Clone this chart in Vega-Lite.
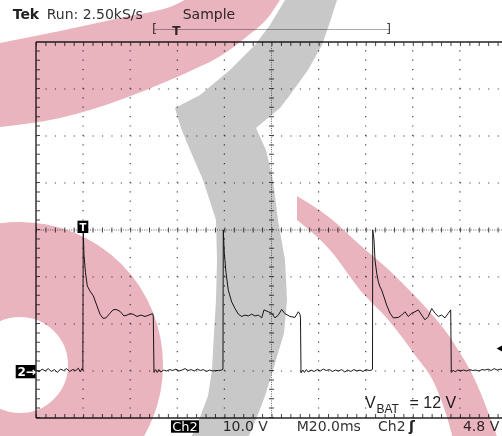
{
  "$schema": "https://vega.github.io/schema/vega-lite/v6.json",
  "width": 466,
  "height": 376,
  "autosize": "none",
  "padding": {"left": 36, "top": 42, "right": 0, "bottom": 18},
  "background": "#ffffff",
  "config": {"view": {"stroke": null}, "axis": {"disable": true}},
  "data": {"values": [{}]},
  "datasets": {
    "trace": [
      {"t":0,"v":0.2},{"t":1.3,"v":-0.2},{"t":2.6,"v":0.4},{"t":3.9,"v":0.0},{"t":5.2,"v":0.5},{"t":6.5,"v":-0.1},{"t":7.8,"v":0.3},{"t":9.1,"v":-0.3},{"t":10.4,"v":0.4},{"t":11.7,"v":0.1},{"t":13.0,"v":0.5},{"t":14.3,"v":-0.1},{"t":15.6,"v":0.3},{"t":16.9,"v":0.1},{"t":18.0,"v":0.6},{"t":18.8,"v":-0.2},{"t":19.5,"v":0.5},{"t":19.9,"v":0.2},
      {"t":20.05,"v":30.0},{"t":20.38,"v":24.7},{"t":21.02,"v":20.9},{"t":21.79,"v":18.1},{"t":22.93,"v":17.0},{"t":24.33,"v":16.0},{"t":25.78,"v":14.0},{"t":27.18,"v":12.1},{"t":28.45,"v":11.2},{"t":29.73,"v":11.3},{"t":31.43,"v":12.3},{"t":32.7,"v":13.0},{"t":33.97,"v":13.1},{"t":35.67,"v":12.7},{"t":37.37,"v":11.7},{"t":38.65,"v":11.9},{"t":39.92,"v":12.2},{"t":41.19,"v":12.1},{"t":42.89,"v":11.6},{"t":44.59,"v":11.9},{"t":46.29,"v":11.6},{"t":47.99,"v":11.9},{"t":49.48,"v":12.2},{"t":49.81,"v":11.7},{"t":50.1,"v":-0.3},
      {"t":50.8,"v":0.3},{"t":51.5,"v":-0.3},{"t":52.2,"v":0.3},{"t":53.0,"v":-0.2},{"t":54.2,"v":0.2},{"t":55.5,"v":0.0},{"t":56.8,"v":0.3},{"t":58.1,"v":0.1},{"t":59.4,"v":0.4},{"t":60.7,"v":0.0},{"t":62.0,"v":0.2},{"t":63.3,"v":0.5},{"t":64.6,"v":0.1},{"t":65.9,"v":0.3},{"t":67.2,"v":0.0},{"t":68.5,"v":0.4},{"t":69.8,"v":0.1},{"t":71.1,"v":0.3},{"t":72.4,"v":-0.1},{"t":73.7,"v":0.2},{"t":75.0,"v":0.0},{"t":76.3,"v":0.1},{"t":77.6,"v":0.1},{"t":78.9,"v":0.2},{"t":79.4,"v":0.4},
      {"t":79.54,"v":30.0},{"t":79.97,"v":25.1},{"t":80.69,"v":20.9},{"t":81.67,"v":17.2},{"t":83.11,"v":14.7},{"t":84.51,"v":13.3},{"t":85.91,"v":12.1},{"t":87.36,"v":11.6},{"t":88.76,"v":11.9},{"t":90.16,"v":11.7},{"t":91.6,"v":12.1},{"t":93.01,"v":11.7},{"t":94.41,"v":11.9},{"t":95.85,"v":11.3},{"t":96.83,"v":13.0},{"t":98.65,"v":12.6},{"t":100.1,"v":12.3},{"t":101.5,"v":11.3},{"t":102.9,"v":11.9},{"t":104.34,"v":13.1},{"t":105.74,"v":12.2},{"t":107.87,"v":11.6},{"t":109.99,"v":11.4},{"t":111.39,"v":12.6},{"t":112.11,"v":12.1},{"t":112.32,"v":11.3},{"t":112.54,"v":-0.4},
      {"t":113.3,"v":0.2},{"t":114.0,"v":-0.3},{"t":114.8,"v":0.3},{"t":115.6,"v":-0.2},{"t":116.8,"v":0.2},{"t":118.1,"v":-0.1},{"t":119.4,"v":0.3},{"t":120.7,"v":0.0},{"t":122.0,"v":0.4},{"t":123.3,"v":0.1},{"t":124.6,"v":0.3},{"t":125.9,"v":-0.1},{"t":127.2,"v":0.2},{"t":128.5,"v":0.0},{"t":129.8,"v":0.3},{"t":131.1,"v":-0.2},{"t":132.4,"v":0.2},{"t":133.7,"v":-0.1},{"t":135.0,"v":0.3},{"t":136.3,"v":0.0},{"t":137.6,"v":0.2},{"t":138.9,"v":-0.1},{"t":140.2,"v":0.3},{"t":141.5,"v":0.1},{"t":142.6,"v":0.2},{"t":142.9,"v":0.4},
      {"t":143.0,"v":30.0},{"t":143.54,"v":27.9},{"t":143.97,"v":23.6},{"t":144.69,"v":20.8},{"t":145.37,"v":19.0},{"t":146.09,"v":17.9},{"t":146.81,"v":17.2},{"t":147.49,"v":16.2},{"t":148.93,"v":14.0},{"t":150.34,"v":12.3},{"t":151.74,"v":11.3},{"t":153.86,"v":11.4},{"t":155.31,"v":11.9},{"t":156.71,"v":12.6},{"t":158.11,"v":11.6},{"t":159.55,"v":12.3},{"t":160.95,"v":12.6},{"t":162.36,"v":13.0},{"t":163.8,"v":11.9},{"t":165.2,"v":10.9},{"t":166.6,"v":11.6},{"t":168.05,"v":13.3},{"t":169.45,"v":12.3},{"t":170.85,"v":11.6},{"t":172.29,"v":11.9},{"t":173.69,"v":11.3},{"t":175.1,"v":12.3},{"t":176.12,"v":13.0},{"t":176.37,"v":-0.3},
      {"t":177.2,"v":0.2},{"t":178.0,"v":-0.2},{"t":179.0,"v":0.2},{"t":180.3,"v":0.0},{"t":181.6,"v":0.2},{"t":182.9,"v":0.0},{"t":184.2,"v":0.3},{"t":185.5,"v":0.1},{"t":186.8,"v":0.2},{"t":188.1,"v":0.0},{"t":189.4,"v":0.3},{"t":190.7,"v":0.2},{"t":192.0,"v":0.4},{"t":193.3,"v":0.1},{"t":194.6,"v":0.5},{"t":195.9,"v":0.2},{"t":197.2,"v":0.4},{"t":197.9,"v":0.3}
    ],
    "vgrid": [{"g":20},{"g":40},{"g":60},{"g":80},{"g":120},{"g":140},{"g":160},{"g":180}],
    "hgrid": [{"g":0},{"g":10},{"g":20},{"g":40},{"g":50},{"g":60}],
    "pinkTop": [
      {"t":-15.29,"top":69.79,"bot":51.92},
      {"t":10.19,"top":72.34,"bot":53.83},
      {"t":35.67,"top":75.11,"bot":57.66},
      {"t":56.91,"top":77.45,"bot":61.89},
      {"t":69.65,"top":80.0,"bot":64.79},
      {"t":73.89,"top":80.0,"bot":65.75},
      {"t":88.76,"top":80.0,"bot":70.85},
      {"t":99.38,"top":80.0,"bot":75.75},
      {"t":104.9,"top":80.0,"bot":80.0}
    ],
    "pinkBand": [
      {"t":110.84,"top":37.23,"bot":32.13},
      {"t":124.86,"top":32.55,"bot":25.74},
      {"t":137.6,"top":26.81,"bot":17.23},
      {"t":150.34,"top":21.28,"bot":10.43},
      {"t":160.95,"top":15.96,"bot":3.4},
      {"t":169.45,"top":11.28,"bot":-2.98},
      {"t":174.54,"top":8.09,"bot":-9.79},
      {"t":177.94,"top":5.53,"bot":-15.74},
      {"t":186.43,"top":-1.91,"bot":-23.19},
      {"t":192.8,"top":-9.79,"bot":-27.45},
      {"t":197.05,"top":-15.74,"bot":-29.57}
    ],
    "grey": [
      {"v":80.0,"tl":106.59,"tr":128.71},
      {"v":78.94,"tl":105.75,"tr":127.83},
      {"v":73.62,"tl":99.38,"tr":124.43},
      {"v":69.36,"tl":92.99,"tr":121.46},
      {"v":64.04,"tl":82.38,"tr":115.51},
      {"v":58.72,"tl":69.65,"tr":107.87},
      {"v":55.96,"tl":59.03,"tr":103.62},
      {"v":51.7,"tl":61.58,"tr":93.43},
      {"v":47.02,"tl":65.4,"tr":97.68},
      {"v":40.64,"tl":70.92,"tr":100.65},
      {"v":32.13,"tl":76.44,"tr":102.77},
      {"v":23.62,"tl":76.87,"tr":105.75},
      {"v":15.11,"tl":76.44,"tr":106.59},
      {"v":8.09,"tl":75.59,"tr":105.32},
      {"v":0.21,"tl":74.74,"tr":100.65},
      {"v":-5.32,"tl":73.04,"tr":97.25},
      {"v":-9.79,"tl":69.65,"tr":93.85},
      {"v":-14.68,"tl":65.4,"tr":89.6}
    ]
  },
  "layer": [
    {
      "data": {"name": "vgrid"},
      "mark": {"type": "rule", "stroke": "#444", "strokeWidth": 1.2, "strokeDash": [1.2, 8.2]},
      "encoding": {
        "x": {"field": "g", "type": "quantitative", "scale": {"domain": [0, 197.9], "nice": false, "zero": false}},
        "y": {"datum": -10, "type": "quantitative", "scale": {"domain": [-10, 70], "nice": false, "zero": false}},
        "y2": {"datum": 70}
      }
    },
    {
      "data": {"name": "hgrid"},
      "mark": {"type": "rule", "stroke": "#444", "strokeWidth": 1.2, "strokeDash": [1.2, 8.22]},
      "encoding": {
        "y": {"field": "g", "type": "quantitative"},
        "x": {"datum": 0, "type": "quantitative"},
        "x2": {"datum": 197.9}
      }
    },
    {"mark": {"type": "rule", "stroke": "#666", "strokeWidth": 1, "strokeDash": [1, 1.35]},
     "encoding": {"x": {"datum": 100, "type": "quantitative"}, "y": {"datum": -10, "type": "quantitative"}, "y2": {"datum": 70}}},
    {"mark": {"type": "rule", "stroke": "#444", "strokeWidth": 5, "strokeDash": [1, 8.4]},
     "encoding": {"x": {"datum": 100, "type": "quantitative"}, "y": {"datum": -10, "type": "quantitative"}, "y2": {"datum": 70}}},
    {"mark": {"type": "rule", "stroke": "#666", "strokeWidth": 1, "strokeDash": [1, 1.35]},
     "encoding": {"y": {"datum": 30, "type": "quantitative"}, "x": {"datum": 0, "type": "quantitative"}, "x2": {"datum": 197.9}}},
    {"mark": {"type": "rule", "stroke": "#444", "strokeWidth": 5, "strokeDash": [1, 8.42]},
     "encoding": {"y": {"datum": 30, "type": "quantitative"}, "x": {"datum": 0, "type": "quantitative"}, "x2": {"datum": 197.9}}},
    {"mark": {"type": "rule", "stroke": "#444", "strokeWidth": 4, "strokeDash": [1, 8.4], "xOffset": 2},
     "encoding": {"x": {"datum": 0, "type": "quantitative"}, "y": {"datum": -10, "type": "quantitative"}, "y2": {"datum": 70}}},
    {"mark": {"type": "rule", "stroke": "#444", "strokeWidth": 4, "strokeDash": [1, 8.42], "yOffset": 2},
     "encoding": {"y": {"datum": 70, "type": "quantitative"}, "x": {"datum": 0, "type": "quantitative"}, "x2": {"datum": 197.9}}},
    {"mark": {"type": "rule", "stroke": "#444", "strokeWidth": 4, "strokeDash": [1, 8.42], "yOffset": -2},
     "encoding": {"y": {"datum": -10, "type": "quantitative"}, "x": {"datum": 0, "type": "quantitative"}, "x2": {"datum": 197.9}}},
    {"mark": {"type": "rule", "stroke": "#333", "strokeWidth": 1.5},
     "encoding": {"x": {"datum": 0, "type": "quantitative"}, "y": {"datum": -10, "type": "quantitative"}, "y2": {"datum": 70}}},
    {"mark": {"type": "rule", "stroke": "#222", "strokeWidth": 1.5},
     "encoding": {"y": {"datum": 70, "type": "quantitative"}, "x": {"datum": 0, "type": "quantitative"}, "x2": {"datum": 197.9}}},
    {"mark": {"type": "rule", "stroke": "#222", "strokeWidth": 1.5},
     "encoding": {"y": {"datum": -10, "type": "quantitative"}, "x": {"datum": 0, "type": "quantitative"}, "x2": {"datum": 197.9}}},
    {
      "data": {"name": "trace"},
      "mark": {"type": "line", "color": "#1a1a1a", "strokeWidth": 1},
      "encoding": {
        "x": {"field": "t", "type": "quantitative"},
        "y": {"field": "v", "type": "quantitative"}
      }
    },
    {"mark": {"type": "rule", "stroke": "#555", "strokeWidth": 1.2, "strokeDash": [1, 1]},
     "encoding": {"y": {"datum": 72.66, "type": "quantitative"}, "x": {"datum": 50.3, "type": "quantitative"}, "x2": {"datum": 150.2}}},
    {"mark": {"type": "text", "text": "[", "align": "left", "baseline": "middle", "font": "DejaVu Sans", "fontSize": 13, "color": "#444"},
     "encoding": {"x": {"datum": 49.26, "type": "quantitative"}, "y": {"datum": 72.66, "type": "quantitative"}}},
    {"mark": {"type": "text", "text": "]", "align": "right", "baseline": "middle", "font": "DejaVu Sans", "fontSize": 13, "color": "#444"},
     "encoding": {"x": {"datum": 150.76, "type": "quantitative"}, "y": {"datum": 72.66, "type": "quantitative"}}},
    {"mark": {"type": "text", "text": "T", "align": "center", "baseline": "middle", "font": "DejaVu Sans", "fontSize": 12, "fontWeight": "bold", "color": "#333"},
     "encoding": {"x": {"datum": 59.58, "type": "quantitative"}, "y": {"datum": 72.4, "type": "quantitative"}}},
    {"mark": {"type": "text", "text": "Tek", "align": "left", "baseline": "alphabetic", "font": "DejaVu Sans", "fontSize": 14, "fontWeight": "bold", "color": "#222"},
     "encoding": {"x": {"datum": -9.9, "type": "quantitative"}, "y": {"datum": 74.9, "type": "quantitative"}}},
    {"mark": {"type": "text", "text": "Run: 2.50kS/s", "align": "left", "baseline": "alphabetic", "font": "DejaVu Sans", "fontSize": 14, "color": "#333"},
     "encoding": {"x": {"datum": 4.54, "type": "quantitative"}, "y": {"datum": 74.9, "type": "quantitative"}}},
    {"mark": {"type": "text", "text": "Sample", "align": "left", "baseline": "alphabetic", "font": "DejaVu Sans", "fontSize": 14, "color": "#333"},
     "encoding": {"x": {"datum": 62.3, "type": "quantitative"}, "y": {"datum": 74.9, "type": "quantitative"}}},
    {"mark": {"type": "rect", "color": "#000"},
     "encoding": {"x": {"datum": 57.33, "type": "quantitative"}, "x2": {"datum": 69.22}, "y": {"datum": -10.49, "type": "quantitative"}, "y2": {"datum": -13.13}}},
    {"mark": {"type": "text", "text": "Ch2", "align": "center", "baseline": "alphabetic", "font": "DejaVu Sans", "fontSize": 13, "color": "#ffffff"},
     "encoding": {"x": {"datum": 63.28, "type": "quantitative"}, "y": {"datum": -12.77, "type": "quantitative"}}},
    {"mark": {"type": "text", "text": "10.0 V", "align": "left", "baseline": "alphabetic", "font": "DejaVu Sans", "fontSize": 14, "color": "#333"},
     "encoding": {"x": {"datum": 79.29, "type": "quantitative"}, "y": {"datum": -12.77, "type": "quantitative"}}},
    {"mark": {"type": "text", "text": "M20.0ms", "align": "left", "baseline": "alphabetic", "font": "DejaVu Sans", "fontSize": 14, "color": "#333"},
     "encoding": {"x": {"datum": 110.71, "type": "quantitative"}, "y": {"datum": -12.77, "type": "quantitative"}}},
    {"mark": {"type": "text", "text": "Ch2", "align": "left", "baseline": "alphabetic", "font": "DejaVu Sans", "fontSize": 14, "color": "#333"},
     "encoding": {"x": {"datum": 145.24, "type": "quantitative"}, "y": {"datum": -12.77, "type": "quantitative"}}},
    {"mark": {"type": "text", "text": "ʃ", "align": "left", "baseline": "alphabetic", "font": "DejaVu Sans", "fontSize": 14, "fontWeight": "bold", "color": "#222"},
     "encoding": {"x": {"datum": 158.4, "type": "quantitative"}, "y": {"datum": -12.77, "type": "quantitative"}}},
    {"mark": {"type": "text", "text": "4.8 V", "align": "left", "baseline": "alphabetic", "font": "DejaVu Sans", "fontSize": 14, "color": "#333"},
     "encoding": {"x": {"datum": 181.3, "type": "quantitative"}, "y": {"datum": -12.77, "type": "quantitative"}}},
    {"mark": {"type": "text", "text": "V", "align": "left", "baseline": "alphabetic", "font": "Liberation Sans", "fontSize": 16, "color": "#222"},
     "encoding": {"x": {"datum": 139.72, "type": "quantitative"}, "y": {"datum": -7.94, "type": "quantitative"}}},
    {"mark": {"type": "text", "text": "BAT", "align": "left", "baseline": "alphabetic", "font": "Liberation Sans", "fontSize": 12, "color": "#222"},
     "encoding": {"x": {"datum": 144.6, "type": "quantitative"}, "y": {"datum": -9.0, "type": "quantitative"}}},
    {"mark": {"type": "text", "text": "= 12 V", "align": "left", "baseline": "alphabetic", "font": "Liberation Sans", "fontSize": 16, "color": "#222"},
     "encoding": {"x": {"datum": 158.6, "type": "quantitative"}, "y": {"datum": -7.94, "type": "quantitative"}}},
    {"mark": {"type": "rect", "color": "#000"},
     "encoding": {"x": {"datum": -8.62, "type": "quantitative"}, "x2": {"datum": -0.21}, "y": {"datum": 1.28, "type": "quantitative"}, "y2": {"datum": -1.55}}},
    {"mark": {"type": "text", "text": "2→", "align": "left", "baseline": "alphabetic", "font": "DejaVu Sans", "fontSize": 12, "fontWeight": "bold", "color": "#ffffff"},
     "encoding": {"x": {"datum": -7.86, "type": "quantitative"}, "y": {"datum": -1.17, "type": "quantitative"}}},
    {"mark": {"type": "rect", "color": "#000"},
     "encoding": {"x": {"datum": 17.62, "type": "quantitative"}, "x2": {"datum": 22.21}, "y": {"datum": 31.98, "type": "quantitative"}, "y2": {"datum": 29.36}}},
    {"mark": {"type": "text", "text": "T", "align": "center", "baseline": "alphabetic", "font": "DejaVu Sans", "fontSize": 10, "fontWeight": "bold", "color": "#ffffff"},
     "encoding": {"x": {"datum": 19.9, "type": "quantitative"}, "y": {"datum": 29.83, "type": "quantitative"}}},
    {"mark": {"type": "point", "shape": "triangle-left", "filled": true, "size": 150, "color": "#000", "opacity": 1},
     "encoding": {"x": {"datum": 197.9, "type": "quantitative"}, "y": {"datum": 4.8, "type": "quantitative"}}},
    {
      "data": {"name": "pinkTop"},
      "mark": {"type": "area", "color": "#e9b4be", "opacity": 1, "clip": false, "blend": "multiply", "interpolate": "monotone"},
      "encoding": {
        "x": {"field": "t", "type": "quantitative"},
        "y": {"field": "top", "type": "quantitative"},
        "y2": {"field": "bot"}
      }
    },
    {
      "data": {"name": "pinkBand"},
      "mark": {"type": "area", "color": "#e9b4be", "opacity": 1, "clip": false, "blend": "multiply", "interpolate": "monotone"},
      "encoding": {
        "x": {"field": "t", "type": "quantitative"},
        "y": {"field": "top", "type": "quantitative"},
        "y2": {"field": "bot"}
      }
    },
    {
      "data": {"name": "grey"},
      "mark": {"type": "area", "orient": "horizontal", "color": "#c8c8c8", "opacity": 1, "clip": false, "blend": "multiply", "interpolate": "linear"},
      "encoding": {
        "y": {"field": "v", "type": "quantitative"},
        "x": {"field": "tl", "type": "quantitative"},
        "x2": {"field": "tr"}
      }
    },
    {"mark": {"type": "point", "shape": "circle", "filled": false, "size": 36481, "stroke": "#e9b4be", "strokeWidth": 95, "opacity": 1, "clip": false, "blend": "multiply"},
     "encoding": {"x": {"datum": -6.79, "type": "quantitative"}, "y": {"datum": 1.28, "type": "quantitative"}}}
  ]
}
